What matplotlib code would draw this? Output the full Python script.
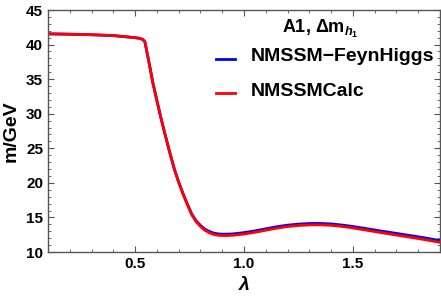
import numpy as np
import matplotlib.pyplot as plt
from matplotlib.ticker import MultipleLocator

plt.rcParams['font.family'] = ['Liberation Sans', 'DejaVu Sans']
plt.rcParams['font.weight'] = 'bold'
plt.rcParams['mathtext.fontset'] = 'custom'
plt.rcParams['mathtext.rm'] = 'Liberation Sans:bold'
plt.rcParams['mathtext.it'] = 'Liberation Sans:bold:italic'
plt.rcParams['mathtext.bf'] = 'Liberation Sans:bold'

lam = [0.1, 0.2, 0.3, 0.4, 0.45, 0.5, 0.52, 0.535, 0.545, 0.55, 0.56, 0.57,
       0.58, 0.6, 0.62, 0.64, 0.66, 0.68, 0.7, 0.72, 0.74, 0.76, 0.78, 0.8,
       0.82, 0.84, 0.86, 0.88, 0.9, 0.92, 0.95, 1.0, 1.05, 1.1, 1.15, 1.2,
       1.25, 1.3, 1.35, 1.4, 1.45, 1.5, 1.55, 1.6, 1.65, 1.7, 1.75, 1.8,
       1.85, 1.9]
calc = [41.55, 41.5, 41.42, 41.3, 41.15, 41.0, 40.9, 40.75, 40.4, 39.6, 38.0, 36.4,
        34.7, 31.9, 29.2, 26.7, 24.3, 22.0, 20.1, 18.4, 16.85, 15.4, 14.4, 13.7,
        13.15, 12.8, 12.55, 12.42, 12.38, 12.38, 12.42, 12.6, 12.85, 13.15, 13.45, 13.68,
        13.83, 13.92, 13.93, 13.86, 13.7, 13.48, 13.22, 12.96, 12.7, 12.45, 12.2, 11.95,
        11.68, 11.4]
fh = [41.55, 41.5, 41.42, 41.3, 41.15, 41.0, 40.9, 40.75, 40.4, 39.6, 38.0, 36.4,
      34.7, 31.9, 29.2, 26.7, 24.3, 22.0, 20.1, 18.45, 16.92, 15.5, 14.52, 13.85,
      13.32, 12.98, 12.74, 12.62, 12.58, 12.58, 12.62, 12.8, 13.05, 13.35, 13.65, 13.88,
      14.03, 14.12, 14.13, 14.06, 13.9, 13.69, 13.44, 13.18, 12.93, 12.69, 12.44, 12.2,
      11.93, 11.65]

W, H = 441, 303
fig = plt.figure(figsize=(W/100, H/100), dpi=100)
ax = fig.add_axes([48/W, 1-252/H, 392/W, 242/H])

ax.plot(lam, fh, color='#0000ff', lw=2.0, label='NMSSM\u2212FeynHiggs')
ax.plot(lam, calc, color='#ff0000', lw=2.0, label='NMSSMCalc')

ax.set_xlim(0.1, 1.9)
ax.set_ylim(10, 45)
ax.set_xticks([0.5, 1.0, 1.5])
ax.set_xticklabels(['0.5', '1.0', '1.5'])
ax.set_yticks(range(10, 46, 5))
ax.xaxis.set_minor_locator(MultipleLocator(0.1))
ax.yaxis.set_minor_locator(MultipleLocator(1))
ax.tick_params(which='both', direction='in', top=True, right=True, color='#555555', labelsize=11)
ax.tick_params(which='major', length=4, width=0.8)
ax.tick_params(which='minor', length=2, width=0.6)
for s in ax.spines.values():
    s.set_color('#555555')
    s.set_linewidth(1.0)

ax.set_xlabel(r'$\lambda$', fontsize=14, labelpad=4)
ax.set_ylabel('m/GeV', fontsize=14, fontweight='bold', labelpad=5)

fig.text(320/W, 1-29/H, r'A1, $\Delta$m$_{h_1}$', fontsize=13, fontweight='bold',
         ha='center', va='center')
leg = ax.legend(loc='upper right', frameon=False, fontsize=14,
                handlelength=1.0, handletextpad=0.8, labelspacing=0.85,
                borderaxespad=0.0, bbox_to_anchor=(442/W, 1-40/H),
                bbox_transform=fig.transFigure)
# handles sit a little low in the original legend
for ln in leg.get_lines():
    ln.set_ydata(np.asarray(ln.get_ydata()) - 3)

fig.savefig('out.png', dpi=100)
